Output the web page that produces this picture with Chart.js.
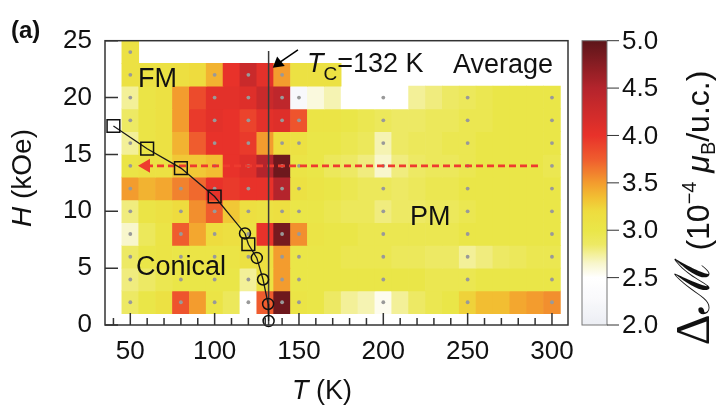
<!DOCTYPE html>
<html lang="en">
<head>
<meta charset="utf-8">
<title>Delta M map</title>
<style>
  html, body { margin: 0; padding: 0; background: #fff; }
  #chart { display: block; }
</style>
</head>
<body>
<canvas id="chart" width="720" height="409"></canvas>
<script src="https://cdn.jsdelivr.net/npm/chart.js@4.4.1/dist/chart.umd.min.js"></script>
<script>
const FONT = '"Liberation Sans", Arial, sans-serif';

// grid of the map
const temps  = [50,60,70,80,90,100,110,120,130,140,150,160,170,180,190,200,210,220,230,240,250,260,270,280,290,300];
const fields = [24,22,20,18,16,14,12,10,8,6,4,2];

// ΔM (10^-4 μB/u.c.) per field row, one value per temperature, null = no data
const dm24 = [3.1,null,null,null,null,null,null,null,null,null,null,null,null,null,null,null,null,null,null,null,null,null,null,null,null,null];
const dm22 = [3.1,3.1,3.1,3.15,3.2,3.4,4.0,4.3,4.05,3.5,3.1,3.1,3.1,null,null,null,null,null,null,null,null,null,null,null,null,null];
const dm20 = [2.75,3.05,3.1,3.5,3.85,4.05,4.05,4.1,4.3,4.4,2.25,2.6,2.7,2.5,2.5,2.5,2.5,2.75,2.8,2.85,2.9,2.95,3.0,3.0,3.0,3.0];
const dm18 = [2.85,3.05,3.1,3.5,3.95,4.05,4.0,3.9,4.05,4.1,3.8,3.05,3.05,3.0,2.95,2.9,2.85,2.85,2.9,2.9,2.95,2.95,3.0,3.0,3.0,3.0];
const dm16 = [2.75,3.05,3.1,3.4,3.75,4.0,4.0,3.95,3.5,3.2,3.1,3.0,3.0,2.95,2.9,2.7,2.85,2.9,2.9,2.95,2.95,3.0,3.0,3.0,3.0,3.0];
const dm14 = [3.05,3.1,3.1,3.3,3.3,3.35,4.0,4.1,4.5,4.9,3.05,3.0,2.9,2.85,2.8,2.65,2.8,2.85,2.9,2.9,2.95,3.0,3.0,3.0,3.0,2.95];
const dm12 = [3.5,3.4,3.45,3.6,3.7,4.0,3.95,4.0,4.0,4.5,3.1,3.05,3.0,2.95,2.9,2.9,2.85,2.9,2.95,2.95,3.0,3.0,3.0,3.0,3.0,3.0];
const dm10 = [2.8,3.05,3.1,3.2,3.55,3.75,3.3,3.15,3.1,3.15,3.0,3.0,2.95,2.9,2.9,2.8,2.85,2.85,2.9,2.9,2.95,3.0,3.0,3.0,3.0,3.0];
const dm8  = [2.65,2.9,3.05,3.75,3.45,3.2,3.15,3.1,4.0,4.85,3.55,3.05,3.0,3.0,2.95,2.95,2.95,2.95,2.95,2.95,3.0,3.0,3.0,3.0,3.0,3.0];
const dm6  = [2.85,3.0,3.05,3.0,3.05,3.05,3.05,3.1,3.15,3.5,3.0,3.0,3.0,2.95,2.95,2.95,2.9,2.9,2.85,2.85,2.75,2.8,2.85,2.9,2.95,2.95];
const dm4  = [2.8,2.85,2.95,3.0,3.0,3.0,3.0,2.75,3.1,3.5,3.0,3.0,3.0,3.0,3.0,3.0,3.0,3.0,2.95,2.95,2.95,3.0,3.0,3.0,3.0,3.0];
const dm2  = [2.85,3.0,3.1,3.8,3.5,3.05,2.9,2.5,3.75,4.9,3.05,3.0,2.85,2.75,2.7,2.55,2.75,2.85,2.95,3.0,3.25,3.35,3.35,3.45,3.5,3.55];
const dmRows = [dm24,dm22,dm20,dm18,dm16,dm14,dm12,dm10,dm8,dm6,dm4,dm2];

// measured (T,H) points, grey dots
const measTlow  = [50,80,100,120,140,150,200,250,300];   // H = 2..12
const measTmid  = [50,100,120,140,150,200,250,300];      // H = 14..20
const measT22   = [50,100,120,140];
const measT24   = [50];

// phase boundary
const boundaryT = [40,60,80,100,118,120,125,128.7,131.7,132];
const boundaryH = [17.5,15.5,13.8,11.3,8.05,7.1,5.9,4.0,1.85,0.35];
const squareT = [40,60,80,100,120];
const squareH = [17.5,15.5,13.8,11.3,7.1];
const circleT = [118,125,128.7,131.7,132];
const circleH = [8.05,5.9,4.0,1.85,0.35];
const Tc = 132;
const sweepH = 14;

const xTicks  = [50,100,150,200,250,300];
const yTicks  = [0,5,10,15,20,25];
const cbTicks = [2.0,2.5,3.0,3.5,4.0,4.5,5.0];

// colour map
const cmap = [
  [2.0,[236,238,244]],[2.3,[250,250,252]],[2.5,[255,255,255]],[2.65,[248,246,204]],
  [2.85,[237,233,100]],[3.0,[234,230,72]],[3.2,[238,220,62]],[3.35,[242,190,50]],
  [3.5,[243,156,46]],[3.75,[239,92,46]],[4.0,[232,50,42]],[4.5,[180,36,44]],[5.0,[92,21,25]]
];
function dmColor(v) {
  if (v <= cmap[0][0]) return 'rgb(' + cmap[0][1].join(',') + ')';
  for (let i = 1; i < cmap.length; i++) {
    if (v <= cmap[i][0]) {
      const [a, ca] = cmap[i-1], [b, cb] = cmap[i];
      const f = (v - a) / (b - a);
      const c = ca.map((k, j) => Math.round(k + (cb[j] - k) * f));
      return 'rgb(' + c.join(',') + ')';
    }
  }
  return 'rgb(' + cmap[cmap.length-1][1].join(',') + ')';
}

// datasets
const cellSets = fields.map((h, r) => ({
  type: 'bar',
  order: 5,
  grouped: false,
  categoryPercentage: 1,
  barPercentage: 1,
  borderWidth: 0,
  backgroundColor: c => (c.raw ? dmColor(c.raw.v) : 'transparent'),
  data: temps.map((t, i) => ({x: t, y: [h - 1, h + 1], v: dmRows[r][i]})).filter(p => p.v !== null)
}));

const dots = [];
fields.forEach(h => {
  const list = h <= 12 ? measTlow : h <= 20 ? measTmid : h === 22 ? measT22 : measT24;
  list.forEach(t => dots.push({x: t, y: h}));
});

const lineSets = [
  { type: 'line', order: 3, data: dots, showLine: false, pointRadius: 1.9,
    pointBackgroundColor: '#999', pointBorderWidth: 0 },
  { type: 'line', order: 2, data: [{x: Tc, y: 0}, {x: Tc, y: 24.1}], borderColor: '#3a3a3a',
    borderWidth: 1.5, pointRadius: 0 },
  { type: 'line', order: 2, data: [{x: 59.3, y: sweepH}, {x: 294, y: sweepH}], borderColor: '#ee3b2f',
    borderWidth: 2.8, borderDash: [7, 4], pointStyle: 'triangle', pointRadius: [8, 0],
    pointRotation: 270, pointBackgroundColor: '#ee3b2f', pointBorderWidth: 0 },
  { type: 'line', order: 1, data: boundaryT.map((t, i) => ({x: t, y: boundaryH[i]})),
    borderColor: '#1a1a1a', borderWidth: 1.3, pointRadius: 0, clip: false },
  { type: 'line', order: 0, data: squareT.map((t, i) => ({x: t, y: squareH[i]})), showLine: false,
    pointStyle: 'rect', pointRadius: 9, pointBorderColor: '#111', pointBorderWidth: 1.5,
    pointBackgroundColor: 'transparent', clip: false },
  { type: 'line', order: 0, data: circleT.map((t, i) => ({x: t, y: circleH[i]})), showLine: false,
    pointStyle: 'circle', pointRadius: 5.5, pointBorderColor: '#111', pointBorderWidth: 1.5,
    pointBackgroundColor: 'transparent', clip: false },
  { type: 'line', order: 0, data: [{x: 149.4, y: 24.2}, {x: 137.7, y: 23.0}], borderColor: '#000',
    borderWidth: 1.5, pointStyle: 'triangle', pointRadius: [0, 7], pointRotation: 231,
    pointBackgroundColor: '#000', pointBorderWidth: 0, clip: false }
];

function txt(ctx, parts, x, y) {
  // parts: [text, font, dy]
  parts.forEach(([s, f, dy]) => {
    ctx.font = f;
    ctx.fillText(s, x, y + (dy || 0));
    x += ctx.measureText(s).width;
  });
  return x;
}
function partsWidth(ctx, parts) {
  let w = 0;
  parts.forEach(([s, f]) => { ctx.font = f; w += ctx.measureText(s).width; });
  return w;
}

const decor = {
  id: 'decor',
  afterDraw(chart) {
    const {ctx, chartArea: a, scales: {x, y}} = chart;
    ctx.save();
    ctx.strokeStyle = '#333';
    ctx.lineWidth = 1.5;
    ctx.strokeRect(a.left, a.top, a.right - a.left, a.bottom - a.top);

    // inward ticks
    ctx.beginPath();
    for (let t = 40; t <= 300; t += 10) {
      const px = x.getPixelForValue(t);
      const len = xTicks.includes(t) ? 12 : 7;
      ctx.moveTo(px, a.bottom); ctx.lineTo(px, a.bottom - len);
    }
    yTicks.forEach(h => {
      const py = y.getPixelForValue(h);
      ctx.moveTo(a.left, py); ctx.lineTo(a.left + 13, py);
    });
    ctx.stroke();

    // labels in the plot
    ctx.fillStyle = '#111';
    ctx.textBaseline = 'alphabetic';
    ctx.textAlign = 'left';
    txt(ctx, [['FM', '27px ' + FONT]], 138, 87);
    txt(ctx, [['Conical', '27px ' + FONT]], 136, 275);
    txt(ctx, [['PM', '27px ' + FONT]], 410, 225);
    txt(ctx, [['Average', '27px ' + FONT]], 453, 73);
    txt(ctx, [['T', 'italic 27px ' + FONT], ['C', '19px ' + FONT, 8], ['=132 K', '27px ' + FONT]], 307, 72);
    txt(ctx, [['(a)', 'bold 24px ' + FONT]], 11, 38);

    // axis titles
    txt(ctx, [['T', 'italic 27px ' + FONT], [' (K)', '27px ' + FONT]], 292, 399);
    ctx.save();
    ctx.translate(31, 178);
    ctx.rotate(-Math.PI / 2);
    const yt = [['H', 'italic 28px ' + FONT], [' (kOe)', '28px ' + FONT]];
    txt(ctx, yt, -partsWidth(ctx, yt) / 2, 0);
    ctx.restore();

    // colour bar
    const cbL = 582, cbR = 607, cbT = a.top, cbB = a.bottom;
    const g = ctx.createLinearGradient(0, cbB, 0, cbT);
    for (let v = 2.0; v <= 5.0001; v += 0.05) g.addColorStop(Math.min(1, (v - 2) / 3), dmColor(v));
    ctx.fillStyle = g;
    ctx.fillRect(cbL, cbT, cbR - cbL, cbB - cbT);
    ctx.strokeStyle = '#777';
    ctx.lineWidth = 1;
    ctx.strokeRect(cbL, cbT, cbR - cbL, cbB - cbT);
    ctx.strokeStyle = '#333';
    ctx.fillStyle = '#111';
    ctx.font = '26px ' + FONT;
    ctx.textBaseline = 'middle';
    ctx.beginPath();
    cbTicks.forEach(v => {
      const py = cbB - (v - 2) / 3 * (cbB - cbT);
      ctx.moveTo(cbR, py); ctx.lineTo(cbR + 12, py);
      ctx.fillText(v.toFixed(1), cbR + 15, py + 1);
    });
    ctx.stroke();

    // colour bar title, rotated
    ctx.save();
    ctx.textBaseline = 'alphabetic';
    ctx.translate(709, 208);
    ctx.rotate(-Math.PI / 2);
    const ct = [['\u0394', '48px "Liberation Serif", serif'], ['\u2133', '48px "DejaVu Serif", serif'],
      [' (10', '32px ' + FONT], ['\u22124', '20px ' + FONT, -13], [' ', '32px ' + FONT],
      ['\u03bc', 'italic 32px ' + FONT], ['B', '20px ' + FONT, 6], ['/u.c.)', '32px ' + FONT]];
    txt(ctx, ct, -partsWidth(ctx, ct) / 2, 0);
    ctx.restore();

    ctx.restore();
  }
};

new Chart(document.getElementById('chart'), {
  type: 'bar',
  data: { datasets: [...cellSets, ...lineSets] },
  plugins: [decor],
  options: {
    responsive: false,
    animation: false,
    devicePixelRatio: 1,
    layout: { padding: { left: 0, right: 152, top: 40.7, bottom: 0 } },
    plugins: { legend: { display: false }, tooltip: { enabled: false } },
    scales: {
      x: {
        type: 'linear', min: 35, max: 309.5, offset: false,
        grid: { display: false, drawTicks: false },
        border: { display: false },
        ticks: { font: { family: FONT, size: 26 }, color: '#111', padding: 11, maxRotation: 0 },
        afterBuildTicks: s => { s.ticks = xTicks.map(v => ({value: v})); },
        afterFit: s => { s.height = 84; }
      },
      y: {
        type: 'linear', min: 0, max: 25,
        grid: { display: false, drawTicks: false },
        border: { display: false },
        ticks: { font: { family: FONT, size: 26 }, color: '#111', padding: 13 },
        afterBuildTicks: s => { s.ticks = yTicks.map(v => ({value: v})); },
        afterFit: s => { s.width = 105; }
      }
    }
  }
});
</script>
</body>
</html>
